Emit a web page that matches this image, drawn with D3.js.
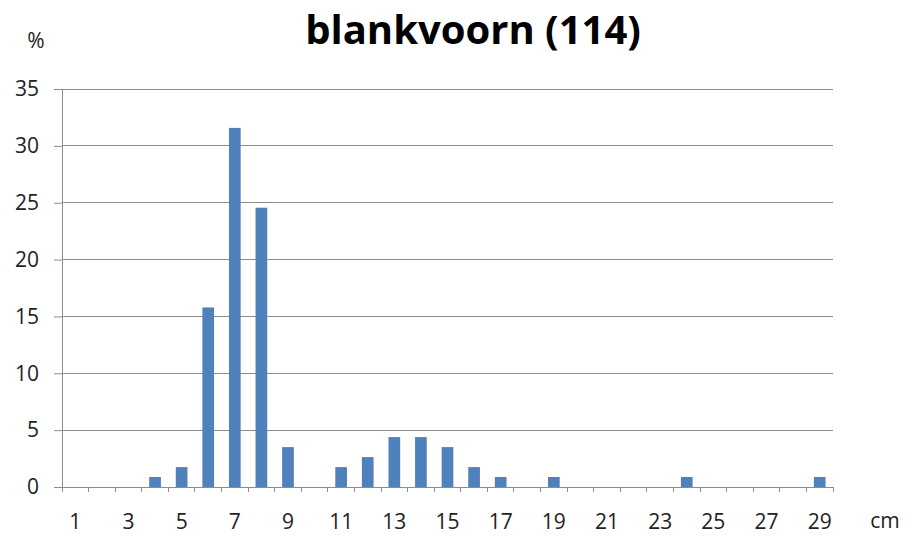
<!DOCTYPE html>
<html><head><meta charset="utf-8">
<script src="https://cdn.jsdelivr.net/npm/d3@7"></script>
<style>body{margin:0;background:#fff}svg{display:block}</style>
</head><body>
<script>
const categories = d3.range(1, 30).map(String);
const values = [0,0,0,0.88,1.75,15.79,31.58,24.56,3.51,0,1.75,2.63,4.39,4.39,3.51,1.75,0.88,0,0.88,0,0,0,0,0.88,0,0,0,0,0.88];
const yTicks = [0,5,10,15,20,25,30,35];
const xLabels = categories.filter(c => (+c) % 2 === 1);
const title = "blankvoorn (114)";

const W = 907, H = 536;
const svg = d3.select("body").append("svg").attr("width", W).attr("height", H);
const font = "'Open Sans', sans-serif";
const x = d3.scaleBand().domain(categories).range([62, 833]).paddingInner(0.56).paddingOuter(0.28);
const y = d3.scaleLinear().domain([0, 35]).range([487, 89]);
const grid = "#8c8c8c";

// gridlines
svg.append("g").selectAll("line").data(yTicks.filter(d => d > 0)).join("line")
  .attr("x1", 62).attr("x2", 833).attr("y1", d => y(d)).attr("y2", d => y(d))
  .attr("stroke", grid).attr("stroke-width", 1).attr("shape-rendering", "crispEdges");

// bars
svg.append("g").selectAll("rect").data(values.map((v, i) => ({c: categories[i], v}))).join("rect")
  .attr("x", d => x(d.c)).attr("width", x.bandwidth())
  .attr("y", d => y(d.v)).attr("height", d => y(0) - y(d.v))
  .attr("fill", "#4f81bd");

// y axis
const ya = d3.axisLeft(y).tickValues(yTicks).tickSize(8).tickPadding(15);
const gy = svg.append("g").attr("transform", "translate(62,0)").call(ya);
gy.select(".domain").attr("stroke", grid);
gy.selectAll(".tick line").attr("stroke", grid);
gy.selectAll("text").attr("font-family", font).attr("font-size", 21).attr("fill", "#222");

// x axis
const gx = svg.append("g").attr("transform", "translate(0,487)");
gx.append("line").attr("x1", 62).attr("x2", 833).attr("stroke", grid).attr("shape-rendering", "crispEdges");
const bounds = d3.range(0, categories.length + 1).map(i => 62 + i * (771 / categories.length));
gx.selectAll(".tk").data(bounds).join("line").attr("class", "tk")
  .attr("x1", d => d).attr("x2", d => d).attr("y1", 0).attr("y2", 5)
  .attr("stroke", grid).attr("shape-rendering", "crispEdges");
gx.selectAll("text").data(xLabels).join("text")
  .attr("x", d => x(d) + x.bandwidth() / 2).attr("y", 42)
  .attr("text-anchor", "middle").attr("font-family", font).attr("font-size", 21).attr("fill", "#222")
  .text(d => d);

// titles
svg.append("text").attr("x", 473).attr("y", 44).attr("text-anchor", "middle")
  .attr("font-family", font).attr("font-weight", "bold").attr("font-size", 40).attr("fill", "#000")
  .text(title);
svg.append("text").attr("x", 36).attr("y", 48).attr("text-anchor", "middle")
  .attr("font-family", font).attr("font-size", 21).attr("fill", "#222").text("%");
svg.append("text").attr("x", 885).attr("y", 528).attr("text-anchor", "middle")
  .attr("font-family", font).attr("font-size", 21).attr("fill", "#222").text("cm");
</script>
</body></html>
